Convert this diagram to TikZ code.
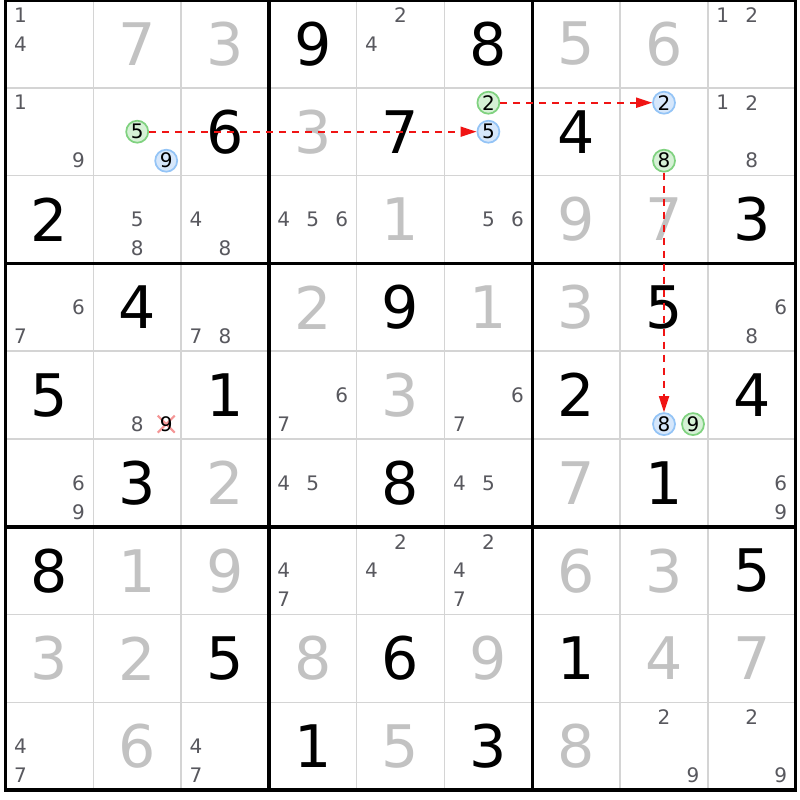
\documentclass[tikz,border=0pt]{standalone}
\usepackage{fontspec}
\setmainfont{DejaVu Sans}
\usetikzlibrary{arrows.meta}

\definecolor{givengray}{RGB}{194,194,194}
\definecolor{candgray}{RGB}{88,88,94}
\definecolor{gridgray}{RGB}{212,212,212}
\definecolor{greenring}{RGB}{128,210,128}
\definecolor{greenfill}{RGB}{214,241,214}
\definecolor{bluering}{RGB}{148,196,246}
\definecolor{bluefill}{RGB}{214,231,251}
\definecolor{strokepink}{RGB}{245,150,150}
\definecolor{linkred}{RGB}{240,20,20}

% cell (row,col) centres, in pixels of the 800x800 picture
\newcommand{\solveddig}[3]{\node[solveddigit] (r#1c#2) at ({5.5+87.8*(#2-0.5)},{87.8*(#1-0.5)}) {#3};}
\newcommand{\givendig}[3]{\node[givendigit] (r#1c#2) at ({5.5+87.8*(#2-0.5)},{87.8*(#1-0.5)}) {#3};}
\newcommand{\cand}[4][cand]{%
  \pgfmathsetmacro{\candx}{5.5+87.8*(#3-0.5)+29*(mod(#4-1,3)-1)}%
  \pgfmathsetmacro{\candy}{87.8*(#2-0.5)+29*(floor((#4-1)/3)-1)}%
  \node[#1] (r#2c#3n#4) at (\candx,\candy) {#4};}
\newcommand{\cands}[3]{\foreach \k in {#3} {\cand{#1}{#2}{\k}}}

\begin{document}
\begin{tikzpicture}[x=0.75pt,y=-0.75pt,
  solveddigit/.style={inner sep=0pt, font=\fontsize{44}{44}\selectfont, text=black},
  givendigit/.style={solveddigit, text=givengray},
  cand/.style={inner sep=0pt, font=\fontsize{15}{15}\selectfont, text=candgray},
  struck/.style={cand, text=black},
  ongreen/.style={cand, text=black, circle, minimum size=16.5pt, line width=1.3pt, draw=greenring, fill=greenfill},
  onblue/.style={ongreen, draw=bluering, fill=bluefill},
  thinline/.style={draw=gridgray, line width=1.1pt},
  boxline/.style={draw=black, line width=2.6pt},
  struckcross/.style={draw=strokepink, line width=1.6pt},
  link/.style={draw=linkred, line width=1.3pt, dash pattern=on 5.25pt off 4.5pt, -{Triangle[length=12pt,width=7.5pt]}}]
\fill[white] (0,0) rectangle (800,800);
\useasboundingbox (0,0) rectangle (800,800);
% grid
\foreach \i in {1,2,4,5,7,8} {
  \draw[thinline] ({5.5+87.8*\i},0) -- ({5.5+87.8*\i},790.2);
  \draw[thinline] (5.5,{87.8*\i}) -- (795.7,{87.8*\i});
}
\foreach \i in {3,6} {
  \draw[boxline] ({5.5+87.8*\i},0) -- ({5.5+87.8*\i},790.2);
  \draw[boxline] (5.5,{87.8*\i}) -- (795.7,{87.8*\i});
}
\draw[boxline] (5.5,0) rectangle (795.7,790.2);
% struck candidate mark, under its digit
\coordinate (xmark) at ({5.5+87.8*1.5+29},{87.8*4.5+29});
\draw[struckcross] ([shift={(-8.5,-8.5)}]xmark) -- ([shift={(8.5,8.5)}]xmark)
  ([shift={(-8.5,8.5)}]xmark) -- ([shift={(8.5,-8.5)}]xmark);
% row 1
\cands{1}{1}{1,4} \givendig{1}{2}{7} \givendig{1}{3}{3}
\solveddig{1}{4}{9} \cands{1}{5}{2,4} \solveddig{1}{6}{8}
\givendig{1}{7}{5} \givendig{1}{8}{6} \cands{1}{9}{1,2}
% row 2
\cands{2}{1}{1,9} \cand[ongreen]{2}{2}{5} \cand[onblue]{2}{2}{9} \solveddig{2}{3}{6}
\givendig{2}{4}{3} \solveddig{2}{5}{7} \cand[ongreen]{2}{6}{2} \cand[onblue]{2}{6}{5}
\solveddig{2}{7}{4} \cand[onblue]{2}{8}{2} \cand[ongreen]{2}{8}{8} \cands{2}{9}{1,2,8}
% row 3
\solveddig{3}{1}{2} \cands{3}{2}{5,8} \cands{3}{3}{4,8}
\cands{3}{4}{4,5,6} \givendig{3}{5}{1} \cands{3}{6}{5,6}
\givendig{3}{7}{9} \givendig{3}{8}{7} \solveddig{3}{9}{3}
% row 4
\cands{4}{1}{6,7} \solveddig{4}{2}{4} \cands{4}{3}{7,8}
\givendig{4}{4}{2} \solveddig{4}{5}{9} \givendig{4}{6}{1}
\givendig{4}{7}{3} \solveddig{4}{8}{5} \cands{4}{9}{6,8}
% row 5
\solveddig{5}{1}{5} \cands{5}{2}{8} \cand[struck]{5}{2}{9} \solveddig{5}{3}{1}
\cands{5}{4}{6,7} \givendig{5}{5}{3} \cands{5}{6}{6,7}
\solveddig{5}{7}{2} \cand[onblue]{5}{8}{8} \cand[ongreen]{5}{8}{9} \solveddig{5}{9}{4}
% row 6
\cands{6}{1}{6,9} \solveddig{6}{2}{3} \givendig{6}{3}{2}
\cands{6}{4}{4,5} \solveddig{6}{5}{8} \cands{6}{6}{4,5}
\givendig{6}{7}{7} \solveddig{6}{8}{1} \cands{6}{9}{6,9}
% row 7
\solveddig{7}{1}{8} \givendig{7}{2}{1} \givendig{7}{3}{9}
\cands{7}{4}{4,7} \cands{7}{5}{2,4} \cands{7}{6}{2,4,7}
\givendig{7}{7}{6} \givendig{7}{8}{3} \solveddig{7}{9}{5}
% row 8
\givendig{8}{1}{3} \givendig{8}{2}{2} \solveddig{8}{3}{5}
\givendig{8}{4}{8} \solveddig{8}{5}{6} \givendig{8}{6}{9}
\solveddig{8}{7}{1} \givendig{8}{8}{4} \givendig{8}{9}{7}
% row 9
\cands{9}{1}{4,7} \givendig{9}{2}{6} \cands{9}{3}{4,7}
\solveddig{9}{4}{1} \givendig{9}{5}{5} \solveddig{9}{6}{3}
\givendig{9}{7}{8} \cands{9}{8}{2,9} \cands{9}{9}{2,9}
% chain
\draw[link] (r2c2n5) -- (r2c6n5);
\draw[link] (r2c6n2) -- (r2c8n2);
\draw[link] (r2c8n8) -- (r5c8n8);
\end{tikzpicture}
\end{document}
